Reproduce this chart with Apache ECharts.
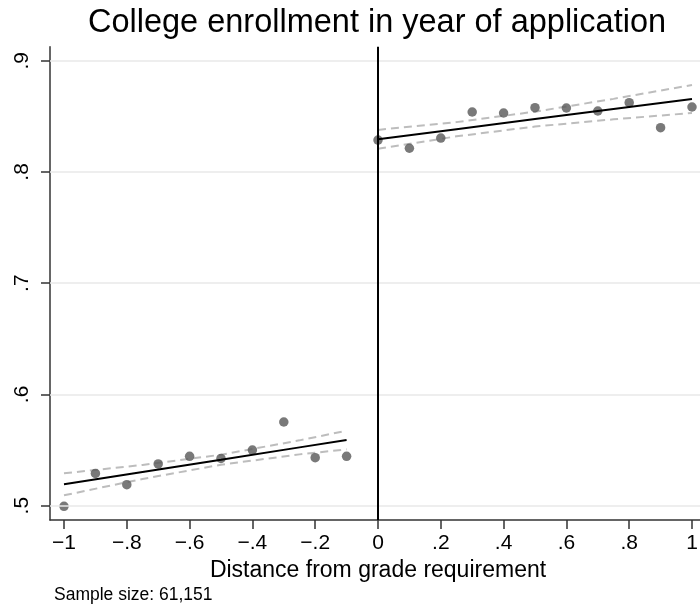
<!DOCTYPE html>
<html>
<head>
<meta charset="utf-8">
<script src="https://cdn.jsdelivr.net/npm/echarts@6/dist/echarts.min.js"></script>
<style>
  html, body { margin: 0; padding: 0; background: #fff; }
  #chart { width: 700px; height: 615px; }
</style>
</head>
<body>
<div id="chart"></div>
<script>
// Binned means of college enrollment by distance from the grade requirement
const binsBelow = [-1, -0.9, -0.8, -0.7, -0.6, -0.5, -0.4, -0.3, -0.2, -0.1];
const meansBelow = [0.4994, 0.529, 0.5189, 0.5375, 0.5443, 0.5425, 0.550, 0.5752, 0.5431, 0.5443];
const binsAbove = [0, 0.1, 0.2, 0.3, 0.4, 0.5, 0.6, 0.7, 0.8, 0.9, 1];
const meansAbove = [0.8287, 0.8213, 0.8305, 0.8539, 0.853, 0.8578, 0.8575, 0.8548, 0.8623, 0.8398, 0.8584];

// Linear fits with 95% confidence bands on each side of the cutoff
const fitXBelow = [-1, -0.75, -0.5, -0.25, -0.1];
const fitBelow = [0.5192, 0.5303, 0.5413, 0.5524, 0.559];
const upperBelow = [0.5291, 0.5366, 0.5458, 0.5587, 0.5674];
const lowerBelow = [0.5093, 0.5240, 0.5368, 0.5461, 0.5506];

const fitXAbove = [0, 0.25, 0.5, 0.75, 1];
const fitAbove = [0.8293, 0.8384, 0.8475, 0.8565, 0.8656];
const upperAbove = [0.8378, 0.8448, 0.8542, 0.8657, 0.8782];
const lowerAbove = [0.8208, 0.8320, 0.8408, 0.8473, 0.8530];

// Axis ticks
const xTicks = [-1, -0.8, -0.6, -0.4, -0.2, 0, 0.2, 0.4, 0.6, 0.8, 1];
const yTicks = [0.5, 0.6, 0.7, 0.8, 0.9];

const cutoff = 0;
const sampleNote = 'Sample size: 61,151';

function zip(xs, ys) { return xs.map((x, i) => [x, ys[i]]); }

// Stata-style number format: leading zero dropped, true minus sign
function stataNum(v) {
  const r = Math.round(v * 10) / 10;
  let s = String(Math.abs(r));
  if (s.startsWith('0.')) s = s.slice(1);
  return (r < 0 ? '\u2212' : '') + s;
}

const FONT = '"Liberation Sans", Arial, Helvetica, sans-serif';
const dotColor = '#585858';
const ciStyle = { color: '#bdbdbd', width: 2, type: [8, 5] };
const fitStyle = { color: '#000', width: 2 };

function lineSeries(data, style, z) {
  return {
    type: 'line', data: data, showSymbol: false, symbol: 'none',
    lineStyle: style, z: z, silent: true, animation: false
  };
}

const chart = echarts.init(document.getElementById('chart'), null, { renderer: 'canvas' });

chart.setOption({
  animation: false,
  backgroundColor: '#fff',
  title: {
    text: 'College enrollment in year of application',
    left: 372, top: 2, textAlign: 'center',
    textStyle: { fontFamily: FONT, fontSize: 32.5, fontWeight: 'normal', color: '#000' }
  },
  grid: { left: 50, right: -6, top: 46.7, bottom: 95, outerBoundsMode: 'none' },
  xAxis: {
    type: 'value',
    min: -1.0446, max: 1.0446,
    name: 'Distance from grade requirement',
    nameLocation: 'middle', nameGap: 34,
    nameTextStyle: { fontFamily: FONT, fontSize: 23, color: '#000' },
    axisLine: { show: true, onZero: false, lineStyle: { color: '#333', width: 1.5 } },
    axisTick: { show: true, length: 9, customValues: xTicks, lineStyle: { color: '#333', width: 1.5 } },
    axisLabel: {
      customValues: xTicks, margin: 13, formatter: stataNum,
      fontFamily: FONT, fontSize: 21, color: '#000'
    },
    splitLine: { show: false }
  },
  yAxis: {
    type: 'value',
    min: 0.4871, max: 0.9126,
    axisLine: { show: true, onZero: false, lineStyle: { color: '#333', width: 1.5 } },
    axisTick: { show: true, length: 9, customValues: yTicks, lineStyle: { color: '#333', width: 1.5 } },
    axisLabel: {
      customValues: yTicks, margin: 17, rotate: 90, formatter: stataNum,
      fontFamily: FONT, fontSize: 21, color: '#000'
    },
    splitLine: { show: false }
  },
  graphic: [{
    type: 'text', left: 54, top: 586,
    style: { text: sampleNote, fontFamily: FONT, fontSize: 17.5, fill: '#000' }
  }],
  series: [
    {
      // horizontal reference lines at the y ticks
      type: 'scatter', data: [], z: 1, silent: true,
      markLine: {
        silent: true, symbol: 'none', animation: false,
        label: { show: false },
        lineStyle: { color: '#e8e8e8', width: 1.5, type: 'solid' },
        data: yTicks.map(v => ({ yAxis: v }))
      }
    },
    lineSeries(zip(fitXBelow, upperBelow), ciStyle, 3),
    lineSeries(zip(fitXBelow, lowerBelow), ciStyle, 3),
    lineSeries(zip(fitXAbove, upperAbove), ciStyle, 3),
    lineSeries(zip(fitXAbove, lowerAbove), ciStyle, 3),
    {
      type: 'scatter', data: zip(binsBelow, meansBelow), symbolSize: 9.5,
      itemStyle: { color: dotColor }, z: 4
    },
    {
      type: 'scatter', data: zip(binsAbove, meansAbove), symbolSize: 9.5,
      itemStyle: { color: dotColor }, z: 4
    },
    lineSeries(zip(fitXBelow, fitBelow), fitStyle, 5),
    lineSeries(zip(fitXAbove, fitAbove), fitStyle, 5),
    {
      // cutoff marker
      type: 'scatter', data: [], z: 6, silent: true,
      markLine: {
        silent: true, symbol: 'none', animation: false,
        label: { show: false },
        lineStyle: { color: '#000', width: 2, type: 'solid' },
        data: [{ xAxis: cutoff }]
      }
    }
  ]
});
</script>
</body>
</html>
